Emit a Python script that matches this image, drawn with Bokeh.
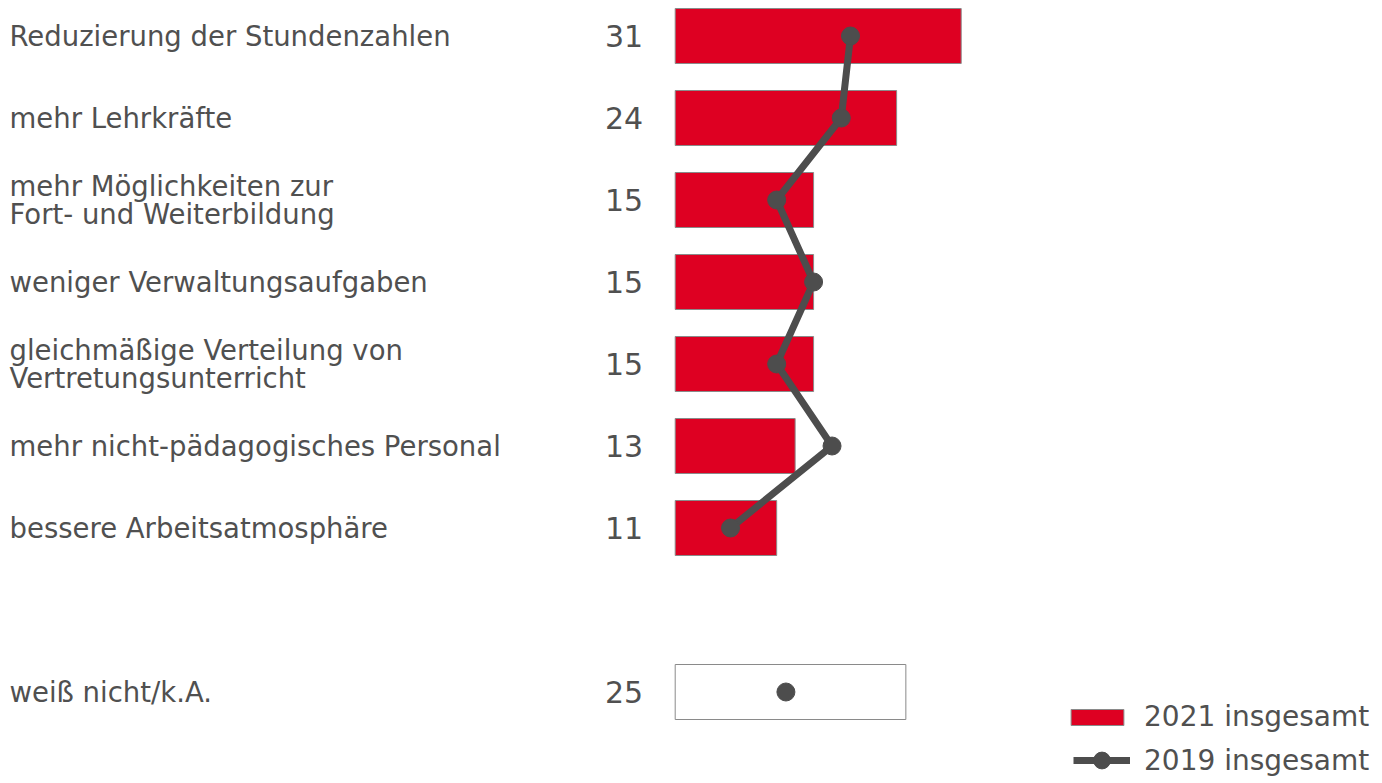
from bokeh.plotting import figure
from bokeh.models import Range1d, ColumnDataSource, Legend, LegendItem
from bokeh.embed import file_html
from bokeh.resources import INLINE
from bokeh.core.properties import value

# ---- data ----
categories = [
    "Reduzierung der Stundenzahlen",
    "mehr Lehrkräfte",
    "mehr Möglichkeiten zur\nFort- und Weiterbildung",
    "weniger Verwaltungsaufgaben",
    "gleichmäßige Verteilung von\nVertretungsunterricht",
    "mehr nicht-pädagogisches Personal",
    "bessere Arbeitsatmosphäre",
]
values_2021 = [31, 24, 15, 15, 15, 13, 11]
values_2019 = [19, 18, 11, 15, 11, 17, 6]
dk_label = "weiß nicht/k.A."
dk_2021 = 25
dk_2019 = 12
series_names = ["2021 insgesamt", "2019 insgesamt"]

# ---- layout ----
W, H = 1382, 783
KX = 286 / 31          # px per unit
X0 = 674.7             # canvas px of value 0
ROW = 82.0             # px per row
R0 = 35.5              # canvas px of first row centre
rows = list(range(len(categories)))
dk_row = len(categories) + 1

RED = "#DE0022"
GREY = "#4D4D4D"
TXT = "#505050"
FONT_NAME = "DejaVu Sans"
FONT = value(FONT_NAME)

p = figure(width=W, height=H, output_backend="svg", toolbar_location=None,
           x_range=Range1d(-X0 / KX, (W - X0) / KX),
           y_range=Range1d((H - R0) / ROW, -R0 / ROW),
           x_axis_location=None, y_axis_location=None,
           min_border=0, outline_line_color=None)
p.grid.visible = False
p.background_fill_color = "white"

src = ColumnDataSource(dict(y=rows, v21=values_2021, v19=values_2019,
                            lab=categories, txt=[str(v) for v in values_2021]))
dk = ColumnDataSource(dict(y=[dk_row], v21=[dk_2021], v19=[dk_2019],
                           lab=[dk_label], txt=[str(dk_2021)]))

bars = p.hbar(y="y", left=0, right="v21", height=55 / ROW, source=src,
              fill_color=RED, line_color="#8a8a8a", line_width=1)
p.hbar(y="y", left=0, right="v21", height=55 / ROW, source=dk,
       fill_color="white", line_color="#8a8a8a", line_width=1)

line = p.line(x="v19", y="y", source=src, line_color=GREY, line_width=7)
dots = p.scatter(x="v19", y="y", source=src, size=18, fill_color=GREY, line_color=GREY)
p.scatter(x="v19", y="y", source=dk, size=18, fill_color=GREY, line_color=GREY)

label_x = p.x_range.start + 9 / KX
for s in (src, dk):
    p.text(x=label_x, y="y", text="lab", source=s, text_font=FONT,
           text_font_size="27.5px", text_color=TXT, text_align="left",
           text_baseline="middle", text_line_height=0.9)
    p.text(x=0, y="y", text="txt", source=s, x_offset=-32, text_font=FONT,
           text_font_size="30px", text_color=TXT, text_align="right",
           text_baseline="middle")

common = dict(padding=0, margin=0, border_line_color=None, background_fill_alpha=0,
              label_text_font=FONT_NAME, label_text_font_size="28px",
              label_text_color=TXT)
leg1 = Legend(items=[LegendItem(label=series_names[0], renderers=[bars])],
              location=(1064, 50), glyph_width=66, glyph_height=20,
              label_standoff=14, **common)
leg2 = Legend(items=[LegendItem(label=series_names[1], renderers=[line, dots])],
              location=(1073, 2), glyph_width=57, glyph_height=42,
              label_standoff=14, **common)
p.add_layout(leg1)
p.add_layout(leg2)

open("out.html", "w").write(file_html(p, INLINE))
